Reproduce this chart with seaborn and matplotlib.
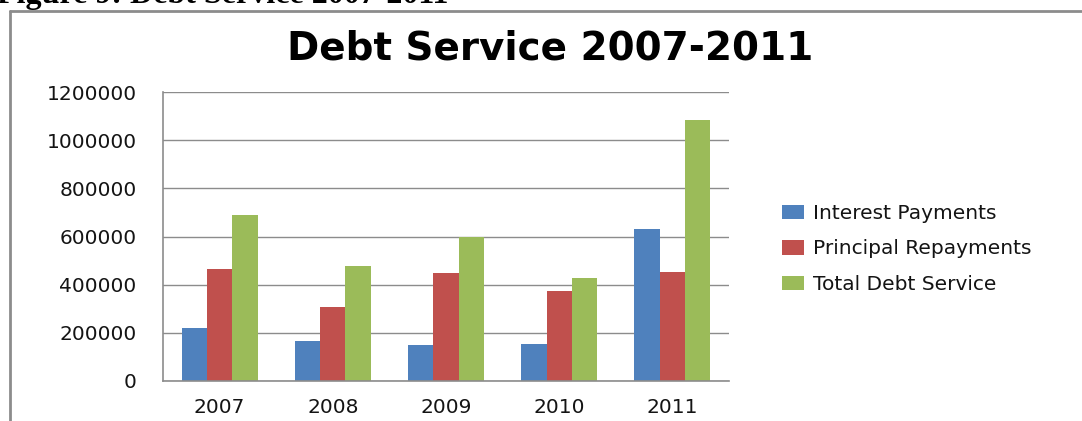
import matplotlib
matplotlib.use("Agg")
import matplotlib.pyplot as plt
import pandas as pd
import seaborn as sns

# Debt service figures by year
years = ["2007", "2008", "2009", "2010", "2011"]
interest_payments = [222000, 167000, 149000, 152000, 632000]
principal_repayments = [465000, 307000, 450000, 372000, 454000]
total_debt_service = [690000, 477000, 598000, 426000, 1083000]
series_names = ["Interest Payments", "Principal Repayments", "Total Debt Service"]
y_ticks = [0, 200000, 400000, 600000, 800000, 1000000, 1200000]

df = pd.DataFrame({
    "Year": years * 3,
    "Series": [s for s in series_names for _ in years],
    "Value": interest_payments + principal_repayments + total_debt_service,
})

sns.set_theme(style="white")
plt.rcParams["font.family"] = ["DejaVu Sans"]

palette = ["#4F81BD", "#C0504D", "#9BBB59"]
grid_grey = "#8C8C8C"

fig = plt.figure(figsize=(10.82, 4.21), dpi=100)
fig.patch.set_facecolor("white")

# outer chart-area border (left and top edges)
fig.add_artist(plt.Line2D([9.5 / 1082, 9.5 / 1082], [0, 1 - 10.5 / 421],
                          transform=fig.transFigure, color=grid_grey, lw=2))
fig.add_artist(plt.Line2D([9.5 / 1082, 1.0], [1 - 11 / 421, 1 - 11 / 421],
                          transform=fig.transFigure, color=grid_grey, lw=2))

# caption of the document, running off the top edge
fig.text(-3 / 1082, 1 - 3 / 421, "Figure 9: Debt Service 2007-2011",
         family="Liberation Serif", fontweight="bold", fontsize=23,
         ha="left", va="baseline", color="black")

ax = fig.add_axes([163 / 1082, 1 - 381 / 421, (729 - 163) / 1082, (381 - 92) / 421])
sns.barplot(data=df, x="Year", y="Value", hue="Series", palette=palette,
            width=0.67, gap=0, saturation=1, ax=ax, legend=True,
            edgecolor="none", linewidth=0)

ax.set_ylim(0, 1200000)
ax.set_yticks(y_ticks)
ax.set_yticklabels([str(v) for v in y_ticks])
ax.set_xlim(-0.5, len(years) - 0.5)
ax.set_xlabel("")
ax.set_ylabel("")
ax.yaxis.grid(True, color=grid_grey, lw=1)
ax.set_axisbelow(True)
for side in ["top", "right"]:
    ax.spines[side].set_visible(False)
for side in ["left", "bottom"]:
    ax.spines[side].set_color(grid_grey)
    ax.spines[side].set_linewidth(1.2)
ax.tick_params(axis="y", length=0, pad=19, labelsize=14.5, labelcolor="#141414")
ax.tick_params(axis="x", length=0, pad=12, labelsize=14.5, labelcolor="#141414")

fig.text(550 / 1082, 1 - 48 / 421, "Debt Service 2007-2011",
         fontsize=28, fontweight="bold", ha="center", va="center", color="black")

handles, labels = ax.get_legend_handles_labels()
ax.legend_.remove()
fig.legend(handles, labels, loc="center left",
           bbox_to_anchor=(772 / 1082, 1 - 249 / 421),
           frameon=False, fontsize=14.5, handlelength=1.1, handleheight=0.7,
           handletextpad=0.45, labelspacing=0.8, borderpad=0,
           labelcolor="#141414")

fig.savefig("out.png", dpi=100)
